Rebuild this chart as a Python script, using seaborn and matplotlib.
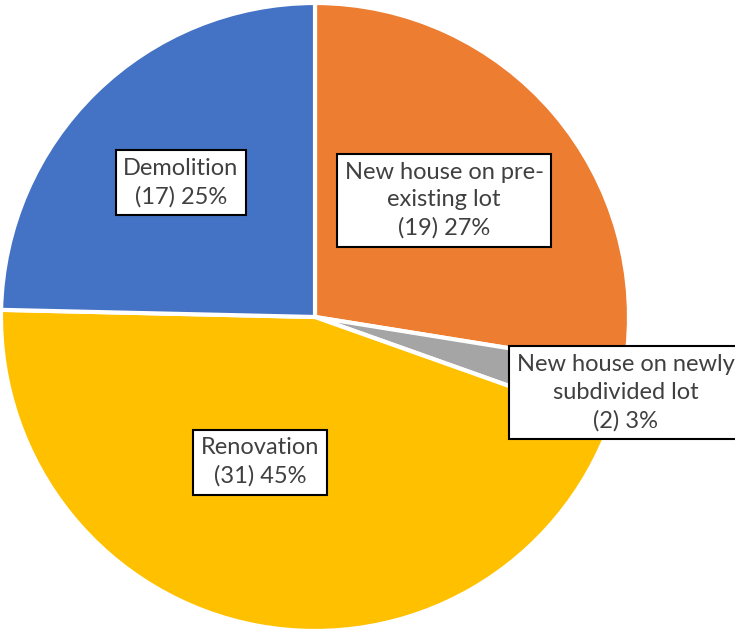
import matplotlib
matplotlib.use("Agg")
import matplotlib.pyplot as plt
import seaborn as sns

# Data
categories = ["New house on pre-existing lot", "New house on newly subdivided lot",
              "Renovation", "Demolition"]
counts = [19, 2, 31, 17]
percents = [27, 3, 45, 25]
label_texts = ["New house on pre-\nexisting lot", "New house on newly\nsubdivided lot",
               "Renovation", "Demolition"]
colors = ["#ED7D31", "#A5A5A5", "#FFC000", "#4472C4"]

sns.set_style("white")
plt.rcParams['font.family'] = ['Lato', 'DejaVu Sans']

fig = plt.figure(figsize=(7.35, 6.31), dpi=100)
ax = fig.add_axes([1 / 735, 0, 628 / 735, 628 / 631])

wedges, _ = ax.pie(counts, colors=colors, startangle=90, counterclock=False,
                   radius=1, wedgeprops=dict(edgecolor="white", linewidth=3))
ax.set_xlim(-1, 1)
ax.set_ylim(-1, 1)
ax.set_aspect("equal")
ax.axis("off")

# label placement (data coords)
label_pos = [(0.411, 0.372), (0.989, -0.241), (-0.174, -0.462), (-0.427, 0.428)]
for txt, c, pct, (x, y) in zip(label_texts, counts, percents, label_pos):
    ax.text(x, y, f"{txt}\n({c}) {pct}%", ha="center", va="center",
            fontsize=17, color="#404040", linespacing=1.4, clip_on=False,
            bbox=dict(boxstyle="square,pad=0.33", facecolor="white",
                      edgecolor="black", linewidth=1.5))

fig.savefig("out.png", dpi=100)
